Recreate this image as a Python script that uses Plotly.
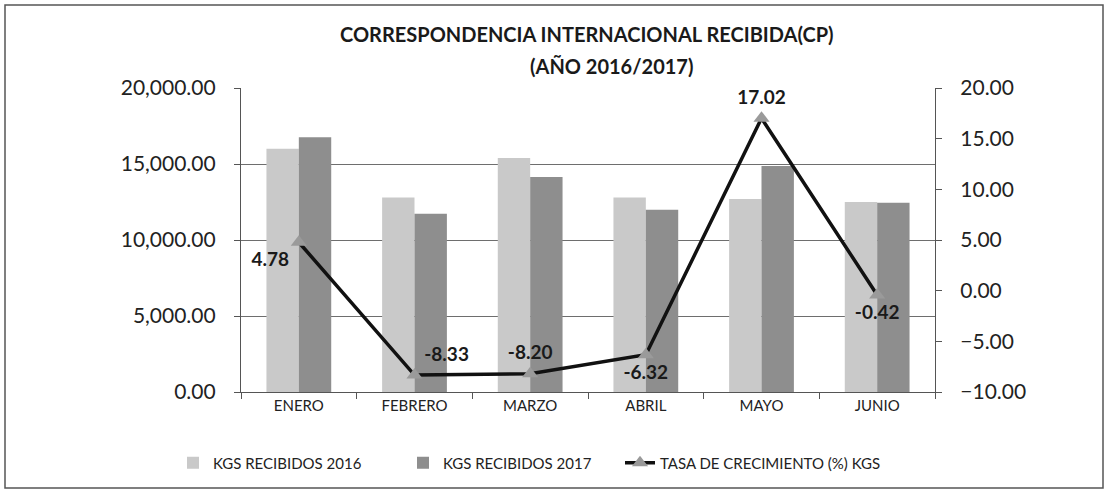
import plotly.graph_objects as go

months = ["ENERO", "FEBRERO", "MARZO", "ABRIL", "MAYO", "JUNIO"]
kgs_2016 = [16000, 12800, 15400, 12800, 12700, 12500]
kgs_2017 = [16765, 11734, 14137, 11991, 14862, 12447]
growth = [4.78, -8.33, -8.20, -6.32, 17.02, -0.42]
growth_labels = ["4.78", "-8.33", "-8.20", "-6.32", "17.02", "-0.42"]
label_pos = ["bottom left", "top right", "top center", "bottom center", "top center", "bottom center"]
title_lines = ["CORRESPONDENCIA INTERNACIONAL RECIBIDA(CP)", "(AÑO 2016/2017)"]

FONT = "Lato"
W, H = 1109, 496
L, R, T, B = 241, 174, 88, 104
PW, PH = W - L - R, H - T - B

fig = go.Figure()
fig.add_trace(go.Bar(x=months, y=kgs_2016, name="KGS RECIBIDOS 2016", legend="legend",
                     showlegend=True,
                     marker=dict(color="#c9c9c9", line=dict(width=0))))
fig.add_trace(go.Bar(x=months, y=kgs_2017, name="KGS RECIBIDOS 2017", legend="legend2",
                     showlegend=True,
                     marker=dict(color="#8e8e8e", line=dict(width=0))))
fig.add_trace(go.Scatter(x=months, y=growth, name="TASA DE CRECIMIENTO (%) KGS",
                         yaxis="y2", legend="legend3", mode="lines+markers+text",
                         showlegend=True,
                         line=dict(color="#111111", width=3.5),
                         marker=dict(symbol="triangle-up", size=14, color="#9a9a9a"),
                         text=growth_labels, textposition=label_pos,
                         textfont=dict(family=FONT, size=19, color="#1a1a1a", weight="bold"),
                         cliponaxis=False))

axis_line = dict(showline=True, linecolor="#555555", linewidth=1.2,
                 ticks="outside", ticklen=6, tickcolor="#555555")

leg_common = dict(orientation="h", xref="container", yref="container",
                  xanchor="left", yanchor="middle", y=1 - 463 / H,
                  font=dict(size=15), bgcolor="rgba(0,0,0,0)")

fig.update_layout(
    width=W, height=H, showlegend=True,
    paper_bgcolor="white", plot_bgcolor="white",
    margin=dict(l=L, r=R, t=T, b=B),
    font=dict(family=FONT, size=15, color="#222222"),
    barmode="group", bargap=0.44, bargroupgap=0,
    xaxis=dict(**axis_line, tickson="boundaries", tickfont=dict(size=15), showgrid=False),
    yaxis=dict(**axis_line, range=[0, 20000], dtick=5000, tickformat=",.2f",
               showgrid=True, gridcolor="#6e6e6e", gridwidth=1.2,
               tickfont=dict(size=21), ticklabelstandoff=14, zeroline=False),
    yaxis2=dict(**axis_line, range=[-10, 20], dtick=5, tickformat=".2f",
                overlaying="y", side="right",
                showgrid=False, zeroline=False, tickfont=dict(size=21),
                ticklabelstandoff=14),
    legend=dict(**leg_common, x=173 / W),
    legend2=dict(**leg_common, x=403 / W),
    legend3=dict(**leg_common, x=620 / W),
    annotations=[
        dict(text="<b>%s</b>" % title_lines[0], xref="paper", yref="paper",
             x=(587 - L) / PW, y=(H - B - 34) / PH, xanchor="center", yanchor="middle",
             showarrow=False, font=dict(family=FONT, size=20, color="#1a1a1a")),
        dict(text="<b>%s</b>" % title_lines[1], xref="paper", yref="paper",
             x=(611 - L) / PW, y=(H - B - 66) / PH, xanchor="center", yanchor="middle",
             showarrow=False, font=dict(family=FONT, size=20, color="#1a1a1a")),
    ],
    shapes=[dict(type="rect", xref="paper", yref="paper",
                 x0=(5 - L) / PW, x1=(1103 - L) / PW,
                 y0=(H - B - 488) / PH, y1=(H - B - 5) / PH,
                 line=dict(color="#555555", width=1.5))],
)

fig.write_html("out.html", config={"displayModeBar": False},
               post_script="document.body.style.margin='0';")
